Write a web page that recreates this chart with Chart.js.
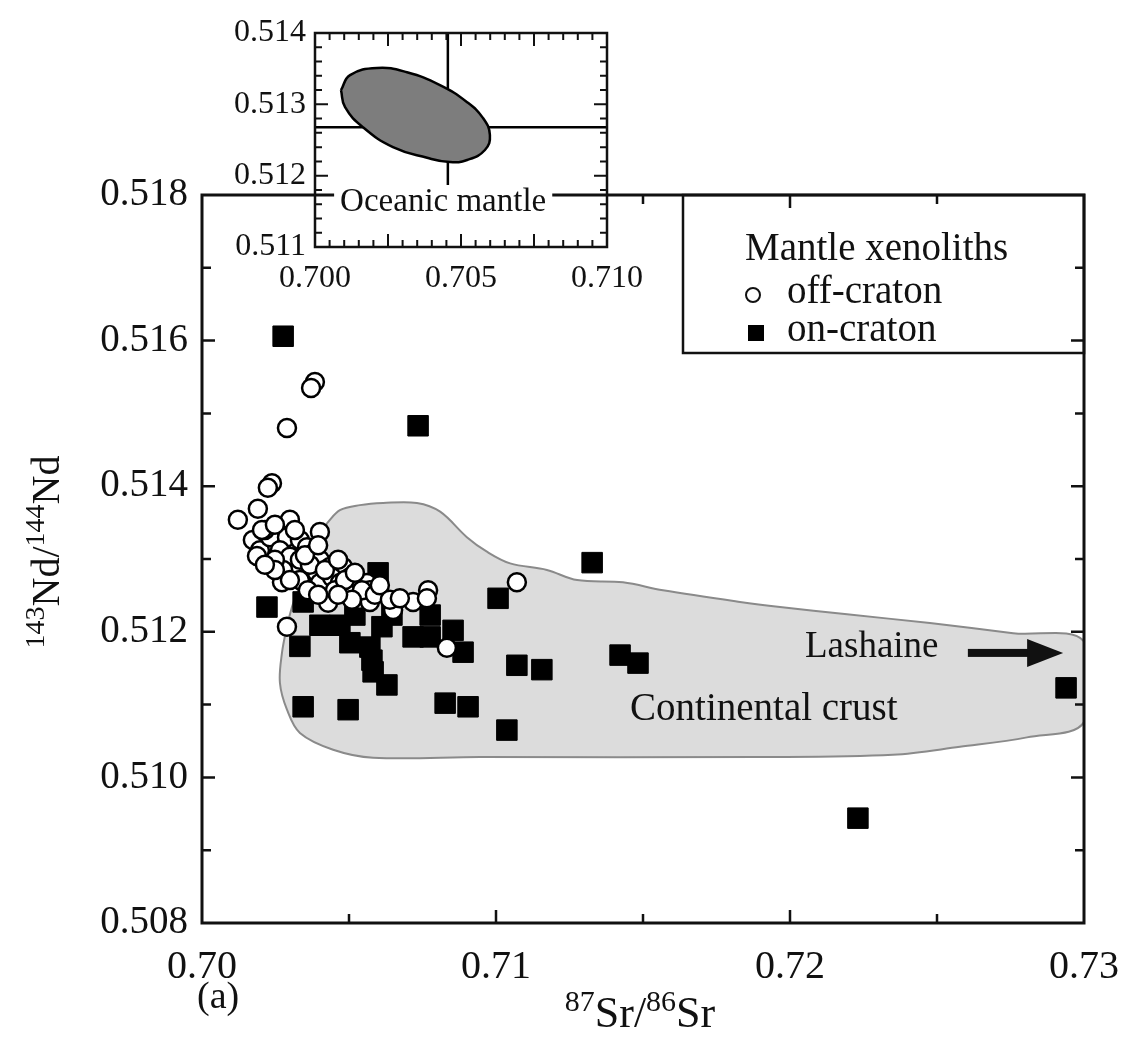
<!DOCTYPE html>
<html>
<head>
<meta charset="utf-8">
<title>Sr-Nd isotopes of mantle xenoliths</title>
<script src="https://cdn.jsdelivr.net/npm/chart.js@4.4.1/dist/chart.umd.min.js"></script>
<style>
  html, body { margin: 0; padding: 0; background: #fff; }
  #wrap { position: relative; width: 1130px; height: 1053px; }
  #mainChart { position: absolute; left: 0; top: 0; }
  #insetChart { position: absolute; left: 220px; top: 10px; }
</style>
</head>
<body>
<div id="wrap">
  <canvas id="mainChart" width="1130" height="1053"></canvas>
  <canvas id="insetChart" width="440" height="290"></canvas>
</div>
<script>
// ---- data ----
const offCratonSr = [
  0.70384, 0.70371, 0.70289, 0.70238, 0.70224, 0.70122, 0.70190, 0.70299, 0.70401, 0.70173,
  0.70197, 0.70187, 0.70231, 0.70289, 0.70265, 0.70333, 0.70357, 0.70299, 0.70276, 0.70272,
  0.70333, 0.70378, 0.70401, 0.70435, 0.70480, 0.70333, 0.70391, 0.70401, 0.70442, 0.70469,
  0.70503, 0.70527, 0.70561, 0.70571, 0.70493, 0.70537, 0.70571, 0.70429, 0.70360, 0.70650,
  0.70718, 0.70769, 0.70765, 0.70289, 0.70833, 0.71071, 0.70214, 0.70248, 0.70367, 0.70452,
  0.70204, 0.70248, 0.70316, 0.70350, 0.70395, 0.70418, 0.70463, 0.70486, 0.70520, 0.70544,
  0.70588, 0.70605, 0.70639, 0.70673, 0.70510, 0.70463, 0.70395, 0.70299, 0.70248, 0.70214
];
const offCratonNd = [
  0.51543, 0.51535, 0.51480, 0.51404, 0.51398, 0.51354, 0.51369, 0.51354, 0.51337, 0.51326,
  0.51312, 0.51304, 0.51330, 0.51330, 0.51312, 0.51326, 0.51316, 0.51303, 0.51285, 0.51268,
  0.51299, 0.51308, 0.51299, 0.51289, 0.51289, 0.51271, 0.51281, 0.51267, 0.51275, 0.51267,
  0.51275, 0.51267, 0.51267, 0.51257, 0.51253, 0.51244, 0.51241, 0.51240, 0.51257, 0.51230,
  0.51241, 0.51257, 0.51246, 0.51207, 0.51178, 0.51268, 0.51340, 0.51299, 0.51292, 0.51257,
  0.51340, 0.51347, 0.51340, 0.51305, 0.51319, 0.51285, 0.51299, 0.51271, 0.51281, 0.51257,
  0.51251, 0.51264, 0.51244, 0.51246, 0.51244, 0.51251, 0.51251, 0.51271, 0.51285, 0.51292
];

const onCratonSr = [
  0.70276, 0.70735, 0.71327, 0.71007, 0.70221, 0.70599, 0.70344, 0.70333, 0.70344, 0.70503,
  0.70497, 0.70571, 0.70578, 0.70582, 0.70629, 0.70612, 0.70718, 0.70776, 0.70776, 0.70854,
  0.70888, 0.70827, 0.70905, 0.71037, 0.71071, 0.71156, 0.71422, 0.71483, 0.72231, 0.72939,
  0.70646, 0.70401, 0.70469, 0.70520
];
const onCratonNd = [
  0.51606, 0.51483, 0.51295, 0.51246, 0.51234, 0.51281, 0.51241, 0.51180, 0.51097, 0.51185,
  0.51093, 0.51179, 0.51161, 0.51145, 0.51127, 0.51207, 0.51193, 0.51223, 0.51193, 0.51202,
  0.51172, 0.51102, 0.51097, 0.51065, 0.51154, 0.51148, 0.51168, 0.51157, 0.50944, 0.51123,
  0.51223, 0.51209, 0.51209, 0.51223
];

// outline of the continental crust field
const crustSr = [
  0.70425, 0.70469, 0.70537, 0.70616, 0.70731, 0.70810, 0.70901, 0.70969, 0.71048, 0.71173,
  0.71276, 0.71432, 0.71568, 0.71830, 0.71966, 0.72194, 0.72476, 0.72759, 0.73000, 0.73000,
  0.72806, 0.72578, 0.72350, 0.71898, 0.70946, 0.70582, 0.70446, 0.70333, 0.70289, 0.70265,
  0.70272, 0.70289, 0.70306, 0.70323, 0.70357, 0.70401, 0.70425
];
const crustNd = [
  0.51349, 0.51367, 0.51374, 0.51377, 0.51377, 0.51365, 0.51330, 0.51310, 0.51294, 0.51285,
  0.51271, 0.51268, 0.51257, 0.51241, 0.51234, 0.51224, 0.51212, 0.51198, 0.51187, 0.51076,
  0.51055, 0.51042, 0.51031, 0.51028, 0.51028, 0.51027, 0.51038, 0.51061, 0.51093, 0.51130,
  0.51171, 0.51207, 0.51234, 0.51253, 0.51289, 0.51330, 0.51349
];

// inset: oceanic mantle field outline and reference cross
const mantleSr = [
  0.70089, 0.70120, 0.70212, 0.70315, 0.70428, 0.70521, 0.70575, 0.70599, 0.70582, 0.70521,
  0.70462, 0.70384, 0.70267, 0.70164, 0.70103, 0.70089
];
const mantleNd = [
  0.51320, 0.51341, 0.51351, 0.51345, 0.51327, 0.51303, 0.51281, 0.51257, 0.51236, 0.51222,
  0.51219, 0.51225, 0.51240, 0.51268, 0.51296, 0.51320
];
const crossHSr = [0.700, 0.710];
const crossHNd = [0.51268, 0.51268];
const crossVSr = [0.70455, 0.70455];
const crossVNd = [0.514, 0.51187];

// tick labels
const xTickValues = [0.70, 0.71, 0.72, 0.73];
const yTickValues = [0.508, 0.510, 0.512, 0.514, 0.516, 0.518];
const insetXTickValues = [0.700, 0.705, 0.710];
const insetYTickValues = [0.511, 0.512, 0.513, 0.514];

// inner tick marks
const xMinorTicks = [0.705, 0.715, 0.725];
const yMinorTicks = [0.509, 0.511, 0.513, 0.515, 0.517];
const insetXMajorTicks = [0.7025, 0.705, 0.7075];
const insetXMinorTicks = [0.7005, 0.701, 0.7015, 0.702, 0.703, 0.7035, 0.704, 0.7045,
  0.7055, 0.706, 0.7065, 0.707, 0.708, 0.7085, 0.709, 0.7095];
const insetYMajorTicks = [0.512, 0.513];
const insetYMinorTicks = [0.5112, 0.5114, 0.5116, 0.5118, 0.5122, 0.5124, 0.5126, 0.5128,
  0.5132, 0.5134, 0.5136, 0.5138];

const SERIF = "'Liberation Serif', 'DejaVu Serif', serif";
const INK = '#111';

function toPoints(xs, ys) {
  return xs.map((x, i) => ({ x: x, y: ys[i] }));
}

// keep the plot box exactly where the layout padding puts it
function noScalePadding(s) {
  s.paddingLeft = 0; s.paddingRight = 0; s.paddingTop = 0; s.paddingBottom = 0;
}

// box round the plot with ticks pointing inwards on all four sides
function frameTicks(spec) {
  return {
    id: 'frameTicks',
    afterDatasetsDraw(chart) {
      const { ctx, chartArea: a, scales } = chart;
      ctx.save();
      ctx.strokeStyle = INK;
      ctx.lineWidth = spec.lineWidth;
      ctx.strokeRect(a.left, a.top, a.right - a.left, a.bottom - a.top);
      ctx.lineWidth = spec.tickWidth;
      ctx.beginPath();
      const xt = (vals, len) => vals.forEach(v => {
        const px = scales.x.getPixelForValue(v);
        ctx.moveTo(px, a.bottom); ctx.lineTo(px, a.bottom - len);
        ctx.moveTo(px, a.top); ctx.lineTo(px, a.top + len);
      });
      const yt = (vals, len) => vals.forEach(v => {
        const py = scales.y.getPixelForValue(v);
        ctx.moveTo(a.left, py); ctx.lineTo(a.left + len, py);
        ctx.moveTo(a.right, py); ctx.lineTo(a.right - len, py);
      });
      xt(spec.xMajor, spec.majorLen);
      xt(spec.xMinor, spec.minorLen);
      yt(spec.yMajor, spec.majorLen);
      yt(spec.yMinor, spec.minorLen);
      ctx.stroke();
      ctx.restore();
    }
  };
}

// text with superscripts, parts = [[text, isSup], ...]
function drawRich(ctx, parts, x, y, size, supSize, raise) {
  let total = 0;
  parts.forEach(p => {
    ctx.font = (p[1] ? supSize : size) + 'px ' + SERIF;
    total += ctx.measureText(p[0]).width;
  });
  let cx = x - total / 2;
  ctx.textAlign = 'left';
  ctx.textBaseline = 'alphabetic';
  parts.forEach(p => {
    ctx.font = (p[1] ? supSize : size) + 'px ' + SERIF;
    ctx.fillText(p[0], cx, p[1] ? y - raise : y);
    cx += ctx.measureText(p[0]).width;
  });
}

const mainNotes = {
  id: 'mainNotes',
  afterDraw(chart) {
    const { ctx, scales } = chart;
    const sx = v => scales.x.getPixelForValue(v);
    const sy = v => scales.y.getPixelForValue(v);
    ctx.save();
    ctx.fillStyle = INK;

    // axis titles
    ctx.save();
    ctx.translate(45, 552);
    ctx.rotate(-Math.PI / 2);
    drawRich(ctx, [['143', true], ['Nd/', false], ['144', true], ['Nd', false]], 0, 14, 40, 28, 15);
    ctx.restore();
    drawRich(ctx, [['87', true], ['Sr/', false], ['86', true], ['Sr', false]], 640, 1027, 44, 30, 16);
    ctx.font = '38px ' + SERIF;
    ctx.textAlign = 'left';
    ctx.textBaseline = 'alphabetic';
    ctx.fillText('(a)', 197, 1008);

    // field labels
    ctx.textBaseline = 'middle';
    ctx.font = '39px ' + SERIF;
    ctx.fillText('Continental crust', sx(0.71456), sy(0.51093));
    ctx.font = '37px ' + SERIF;
    ctx.fillText('Lashaine', sx(0.72051), sy(0.51179));

    // arrow towards the off-scale Lashaine samples
    const ay = sy(0.51171), ax0 = sx(0.72605), ax1 = sx(0.72929);
    ctx.fillRect(ax0, ay - 4, ax1 - ax0 - 30, 8);
    ctx.beginPath();
    ctx.moveTo(ax1, ay);
    ctx.lineTo(ax1 - 36, ay - 14);
    ctx.lineTo(ax1 - 36, ay + 14);
    ctx.closePath();
    ctx.fill();

    // legend box
    const a = chart.chartArea;
    ctx.strokeStyle = INK;
    ctx.lineWidth = 2.5;
    ctx.strokeRect(683, a.top, a.right - 683, 158);
    ctx.font = '39px ' + SERIF;
    ctx.fillText('Mantle xenoliths', 745, 250);
    ctx.fillText('off-craton', 787, 293);
    ctx.fillText('on-craton', 787, 331);
    ctx.beginPath();
    ctx.arc(753, 295, 7, 0, Math.PI * 2);
    ctx.fillStyle = '#fff';
    ctx.fill();
    ctx.lineWidth = 2;
    ctx.stroke();
    ctx.fillStyle = '#000';
    ctx.fillRect(748, 325, 16, 16);
    ctx.restore();
  }
};

new Chart(document.getElementById('mainChart'), {
  type: 'scatter',
  data: {
    datasets: [
      {
        label: 'Continental crust',
        data: toPoints(crustSr, crustNd),
        showLine: true,
        fill: 'shape',
        tension: 0.35,
        backgroundColor: '#dcdcdc',
        borderColor: '#8a8a8a',
        borderWidth: 2,
        pointRadius: 0,
        order: 3
      },
      {
        label: 'on-craton',
        data: toPoints(onCratonSr, onCratonNd),
        pointStyle: 'rect',
        pointRadius: 14.5,
        backgroundColor: '#000',
        borderColor: '#000',
        borderWidth: 1,
        order: 2
      },
      {
        label: 'off-craton',
        data: toPoints(offCratonSr, offCratonNd),
        pointStyle: 'circle',
        pointRadius: 9,
        backgroundColor: '#fff',
        borderColor: '#000',
        borderWidth: 2.5,
        order: 1
      }
    ]
  },
  options: {
    responsive: false,
    animation: false,
    events: [],
    layout: { padding: { top: 195, right: 46, left: 0, bottom: 0 } },
    plugins: { legend: { display: false }, tooltip: { enabled: false } },
    scales: {
      x: {
        type: 'linear', min: 0.70, max: 0.73,
        grid: { display: false, drawTicks: false }, border: { display: false },
        afterBuildTicks: s => { s.ticks = xTickValues.map(v => ({ value: v })); },
        afterFit: s => { s.height = 130; noScalePadding(s); },
        ticks: {
          padding: 20, color: INK, autoSkip: false, maxRotation: 0,
          font: { family: SERIF, size: 40 },
          callback: v => v.toFixed(2)
        }
      },
      y: {
        type: 'linear', min: 0.508, max: 0.518,
        grid: { display: false, drawTicks: false }, border: { display: false },
        afterBuildTicks: s => { s.ticks = yTickValues.map(v => ({ value: v })); },
        afterFit: s => { s.width = 202; noScalePadding(s); },
        ticks: {
          padding: 14, color: INK, autoSkip: false,
          font: { family: SERIF, size: 39 },
          callback: v => v.toFixed(3)
        }
      }
    }
  },
  plugins: [
    frameTicks({
      lineWidth: 3, tickWidth: 2.5, majorLen: 13, minorLen: 9,
      xMajor: [0.71, 0.72], xMinor: xMinorTicks,
      yMajor: [0.510, 0.512, 0.514, 0.516], yMinor: yMinorTicks
    }),
    mainNotes
  ]
});

// ===== inset: oceanic mantle =====
const insetNotes = {
  id: 'insetNotes',
  afterDraw(chart) {
    const { ctx, scales } = chart;
    const x = scales.x.getPixelForValue(0.70086);
    const y = scales.y.getPixelForValue(0.51162);
    ctx.save();
    ctx.font = '33px ' + SERIF;
    const w = ctx.measureText('Oceanic mantle').width;
    ctx.fillStyle = '#fff';
    ctx.fillRect(x - 6, y - 15, w + 12, 30);
    ctx.fillStyle = INK;
    ctx.textAlign = 'left';
    ctx.textBaseline = 'middle';
    ctx.fillText('Oceanic mantle', x, y);
    ctx.restore();
  }
};

new Chart(document.getElementById('insetChart'), {
  type: 'scatter',
  data: {
    datasets: [
      {
        data: toPoints(crossHSr, crossHNd), showLine: true,
        borderColor: '#000', borderWidth: 2.5, pointRadius: 0, order: 3
      },
      {
        data: toPoints(crossVSr, crossVNd), showLine: true,
        borderColor: '#000', borderWidth: 2.5, pointRadius: 0, order: 3
      },
      {
        label: 'Oceanic mantle',
        data: toPoints(mantleSr, mantleNd),
        showLine: true, fill: 'shape', tension: 0.45,
        backgroundColor: '#7d7d7d', borderColor: '#000', borderWidth: 2.5,
        pointRadius: 0, order: 1
      }
    ]
  },
  options: {
    responsive: false,
    animation: false,
    events: [],
    layout: { padding: { top: 23, right: 53, left: 0, bottom: 0 } },
    plugins: { legend: { display: false }, tooltip: { enabled: false } },
    scales: {
      x: {
        type: 'linear', min: 0.700, max: 0.710,
        grid: { display: false, drawTicks: false }, border: { display: false },
        afterBuildTicks: s => { s.ticks = insetXTickValues.map(v => ({ value: v })); },
        afterFit: s => { s.height = 53; noScalePadding(s); },
        ticks: {
          padding: 12, color: INK, autoSkip: false, maxRotation: 0,
          font: { family: SERIF, size: 32 },
          callback: v => v.toFixed(3)
        }
      },
      y: {
        type: 'linear', min: 0.511, max: 0.514,
        grid: { display: false, drawTicks: false }, border: { display: false },
        afterBuildTicks: s => { s.ticks = insetYTickValues.map(v => ({ value: v })); },
        afterFit: s => { s.width = 95; noScalePadding(s); },
        ticks: {
          padding: 9, color: INK, autoSkip: false,
          font: { family: SERIF, size: 32 },
          callback: v => v.toFixed(3)
        }
      }
    }
  },
  plugins: [
    frameTicks({
      lineWidth: 2.5, tickWidth: 2, majorLen: 13, minorLen: 7,
      xMajor: insetXMajorTicks, xMinor: insetXMinorTicks,
      yMajor: insetYMajorTicks, yMinor: insetYMinorTicks
    }),
    insetNotes
  ]
});
</script>
</body>
</html>
